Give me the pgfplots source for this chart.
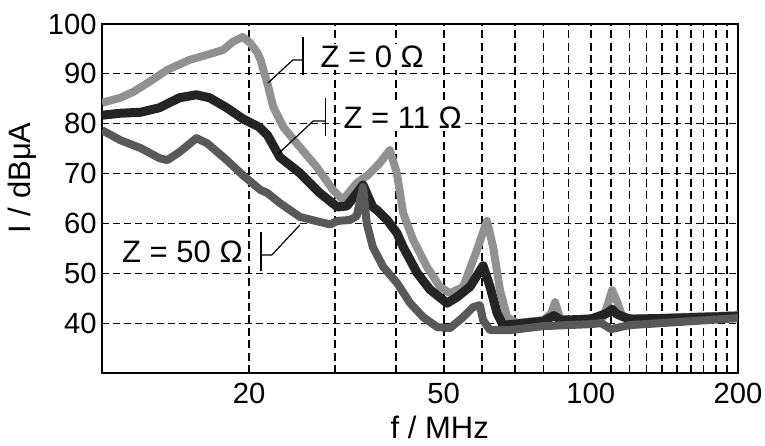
\documentclass[border=0pt]{standalone}
\usepackage{fontspec}
\setmainfont{Liberation Sans}
\usepackage{pgfplots}
\pgfplotsset{compat=1.18}

\definecolor{zzero}{gray}{0.57}
\definecolor{zeleven}{gray}{0.14}
\definecolor{zfifty}{gray}{0.35}

\newcommand{\labfont}{\fontsize{15.5}{18.5}\selectfont}

\begin{document}
\begin{tikzpicture}[font=\fontsize{14.6}{17.5}\selectfont]
\begin{axis}[
    xmode=log,
    scale only axis,
    width=318pt, height=174.5pt,
    xmin=10, xmax=200,
    ymin=30, ymax=100,
    xtick={20,30,40,50,60,70,80,90,100,110,120,130,140,150,160,170,180,190,200},
    xticklabels={20,,,50,,,,,100,,,,,,,,,,200},
    ytick={40,50,60,70,80,90,100},
    /pgf/number format/assume math mode=true,
    major tick length=0pt,
    minor tick length=0pt,
    every tick label/.append style={inner sep=0pt},
    yticklabel style={xshift=-2.5pt},
    xticklabel style={yshift=-5pt},
    grid=major,
    x grid style={black, line width=0.9pt, dash pattern=on 4pt off 2.2pt},
    y grid style={black, line width=0.45pt, dash pattern=on 3.5pt off 2pt},
    axis line style={black, line width=0.8pt},
    xlabel={f / MHz},
    ylabel={I / dBμA},
    xlabel style={font=\labfont, at={(axis description cs:0.531,-0.155)}, anchor=center},
    ylabel style={font=\labfont, at={(axis description cs:-0.126,0.559)}, anchor=center},
    clip mode=individual,
]
% Z = 0 Ohm
\addplot[color=zzero, line width=4pt, line join=round] coordinates {
    (10,84.2) (10.9,85.2) (11.6,86.4) (12.5,88.4) (13.6,90.8) (15.1,92.8)
    (16.9,94.2) (17.7,94.8) (18.5,96.4) (19.4,97.4) (20.1,96.2) (20.8,94.2)
    (21.1,92.8) (21.8,88.0) (22.4,83.4) (23.5,79.3) (25.4,75.3) (27.5,71.3)
    (29.7,66.7) (31.1,64.7) (33.2,68.1) (35.0,69.7) (37.0,72.1) (38.8,74.7)
    (40.1,70.1) (41.3,62.1) (43.3,56.7) (46.2,51.3) (49.1,47.3) (51.5,46.0)
    (54.8,47.3) (58.5,54.7) (61.3,60.5) (63.1,55.3) (65.2,46.6) (67.4,41.2)
    (70.6,40.0) (75,40.3) (80,40.6) (83,42.0) (84.5,44.2) (86.5,41.0)
    (90,40.6) (100,41.0) (106,41.2) (108.5,44.0) (110.5,46.6) (113.5,44.0)
    (116,41.2) (125,40.8) (150,41.2) (175,41.4) (200,41.6)
};
% Z = 11 Ohm
\addplot[color=zeleven, line width=4.5pt, line join=round] coordinates {
    (10,81.7) (10.9,82.1) (12,82.3) (13.1,83.2) (14.4,85.2) (15.6,85.8)
    (16.6,85.2) (18,83.2) (19.4,81.0) (21,79.3) (21.8,77.7) (23.1,73.3)
    (25.4,70.1) (27.9,66.1) (30.3,63.3) (31.7,63.5) (34.2,67.7) (35.8,63.3)
    (36.5,62.7) (38.3,60.7) (40.1,58.1) (41.3,55.3) (44.1,50.1) (46.9,46.7)
    (50.8,44.0) (53.2,45.2) (56.6,47.3) (60.2,51.5) (62.2,47.3) (64.3,42.0)
    (66.1,39.6) (70,39.8) (80,40.4) (84,41.5) (87,40.6) (100,40.8)
    (108,42.0) (110.5,42.8) (113,41.8) (120,40.8) (150,41.0) (200,41.4)
};
% Z = 50 Ohm
\addplot[color=zfifty, line width=4pt, line join=round] coordinates {
    (10,78.7) (10.9,76.7) (12,75.1) (13.1,73.1) (13.6,72.7) (14.4,74.3)
    (15.6,77.1) (16.4,76.1) (18,72.7) (19.4,69.7) (21.1,66.7) (21.8,66.1)
    (23.1,64.1) (25.4,61.3) (27.9,60.3) (29.3,59.8) (30.3,60.5) (32.2,60.7)
    (33.2,61.5) (34.2,67.3) (34.8,60.0) (35.8,55.3) (37.6,51.3) (40.1,48.1)
    (42.7,44.0) (45.4,41.2) (48.5,39.2) (51.5,39.0) (54.8,41.2) (57.4,43.2)
    (59.3,43.6) (60.2,40.6) (62.2,38.6) (68.3,38.6) (80,39.4) (100,39.8)
    (105,40.0) (110,38.8) (120,39.6) (150,40.2) (200,41.0)
};
% annotations
\draw[black, line width=0.6pt] (rel axis cs:0.261,0.831) -- (rel axis cs:0.300,0.897) -- (rel axis cs:0.316,0.897);
\draw[black, line width=0.6pt] (rel axis cs:0.316,0.963) -- (rel axis cs:0.316,0.854);
\node[font=\labfont, anchor=west, fill=white, inner sep=1pt] at (rel axis cs:0.340,0.905) {Z = 0 Ω};
\draw[black, line width=0.6pt] (rel axis cs:0.277,0.628) -- (rel axis cs:0.332,0.722) -- (rel axis cs:0.352,0.722);
\draw[black, line width=0.6pt] (rel axis cs:0.352,0.788) -- (rel axis cs:0.352,0.679);
\node[font=\labfont, anchor=west, fill=white, inner sep=1pt] at (rel axis cs:0.376,0.731) {Z = 11 Ω};
\draw[black, line width=0.6pt] (rel axis cs:0.311,0.424) -- (rel axis cs:0.267,0.338) -- (rel axis cs:0.250,0.338);
\draw[black, line width=0.6pt] (rel axis cs:0.250,0.404) -- (rel axis cs:0.250,0.292);
\node[font=\labfont, anchor=east, fill=white, inner sep=1pt] at (rel axis cs:0.225,0.347) {Z = 50 Ω};
% page frame
\path (rel axis cs:-0.1604,-0.1891) rectangle (rel axis cs:1.0425,1.0688);
\end{axis}
\end{tikzpicture}
\end{document}
